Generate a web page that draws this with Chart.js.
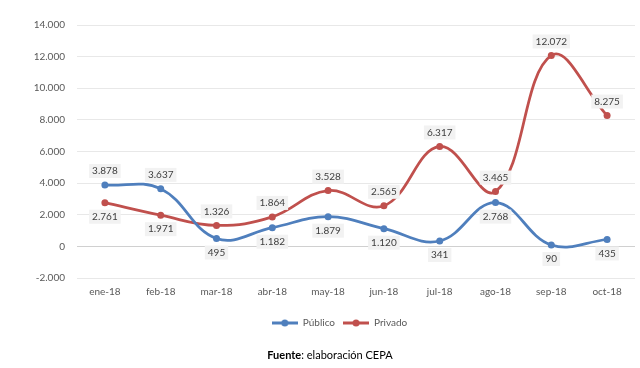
<!DOCTYPE html>
<html>
<head>
<meta charset="utf-8">
<script src="https://cdn.jsdelivr.net/npm/chart.js@4"></script>
<style>
  html, body { margin: 0; padding: 0; background: #fff; }
  #wrap { position: relative; width: 640px; height: 368px; }
  #fuente { position: absolute; left: 20px; right: 0; top: 348px; text-align: center;
            font: 11px Lato, sans-serif; color: #000; }
</style>
</head>
<body>
<div id="wrap">
  <canvas id="grafico" width="640" height="368"></canvas>
  <div id="fuente"><b>Fuente</b>: elaboración CEPA</div>
</div>
<script>
  // datos
  var MESES = ['ene-18', 'feb-18', 'mar-18', 'abr-18', 'may-18', 'jun-18', 'jul-18', 'ago-18', 'sep-18', 'oct-18'];
  var PUBLICO = [3878, 3637, 495, 1182, 1879, 1120, 341, 2768, 90, 435];
  var PRIVADO = [2761, 1971, 1326, 1864, 3528, 2565, 6317, 3465, 12072, 8275];
  var Y_MIN = -2000, Y_MAX = 14000, Y_PASO = 2000;

  // ubicación de cada etiqueta respecto del punto
  var POS_PUBLICO = ['arriba', 'arriba', 'abajo', 'abajo', 'abajo', 'abajo', 'abajo', 'abajo', 'abajo', 'abajo'];
  var POS_PRIVADO = ['abajo', 'abajo', 'arriba', 'arriba', 'arriba', 'arriba', 'arriba', 'arriba', 'arriba', 'arriba'];

  var AZUL = '#4f7fbd', ROJO = '#c0504d';
  var FUENTE = 'Lato, sans-serif';

  function fmt(n) { return String(n).replace(/\B(?=(\d{3})+(?!\d))/g, '.'); }

  // marcador de leyenda estilo Excel: línea con punto
  function marcador(color) {
    var c = document.createElement('canvas');
    c.width = 26; c.height = 10;
    var x = c.getContext('2d');
    x.strokeStyle = color; x.lineWidth = 3;
    x.beginPath(); x.moveTo(0, 5); x.lineTo(26, 5); x.stroke();
    x.fillStyle = color;
    x.beginPath(); x.arc(13, 5, 3.5, 0, Math.PI * 2); x.fill();
    return c;
  }

  /* etiquetas de datos con fondo gris claro */
  var etiquetas = {
    id: 'etiquetas',
    afterDatasetsDraw: function (chart) {
      var ctx = chart.ctx;
      ctx.save();
      ctx.font = '10px ' + FUENTE;
      ctx.textAlign = 'center';
      ctx.textBaseline = 'middle';
      chart.data.datasets.forEach(function (ds, i) {
        var meta = chart.getDatasetMeta(i);
        meta.data.forEach(function (pt, j) {
          var txt = fmt(ds.data[j]);
          var w = ctx.measureText(txt).width + 6, h = 14;
          var cy = ds.posiciones[j] === 'arriba' ? pt.y - 14 : pt.y + 14;
          ctx.fillStyle = '#f2f2f2';
          ctx.fillRect(pt.x - w / 2, cy - h / 2, w, h);
          ctx.fillStyle = '#404040';
          ctx.fillText(txt, pt.x, cy);
        });
      });
      ctx.restore();
    }
  };

  // la leyenda va algo corrida a la derecha, como en el original
  var correrLeyenda = {
    id: 'correrLeyenda',
    afterLayout: function (chart) {
      if (chart.legend) { chart.legend.left += 17; chart.legend.right += 17; }
    }
  };

  function serie(nombre, datos, color, pos) {
    return {
      label: nombre, data: datos, posiciones: pos,
      borderColor: color, backgroundColor: color,
      borderWidth: 2.75, pointRadius: 3.5, pointBackgroundColor: color, pointBorderWidth: 0,
      tension: 0.4, fill: false,
    };
  }

  new Chart(document.getElementById('grafico').getContext('2d'), {
    type: 'line',
    data: {
      labels: MESES,
      datasets: [
        serie('Público', PUBLICO, AZUL, POS_PUBLICO),
        serie('Privado', PRIVADO, ROJO, POS_PRIVADO),
      ],
    },
    plugins: [etiquetas, correrLeyenda],
    options: {
      responsive: false, animation: false,
      layout: { padding: { left: 10, right: 5, top: 25, bottom: 30 } },
      plugins: {
        tooltip: { enabled: false },
        legend: {
          position: 'bottom',
          labels: {
            usePointStyle: true, pointStyleWidth: 26, padding: 8,
            color: '#595959', font: { family: FUENTE, size: 10 },
            generateLabels: function (chart) {
              return chart.data.datasets.map(function (ds, i) {
                return { text: ds.label, pointStyle: marcador(ds.borderColor), fontColor: '#595959',
                         hidden: false, datasetIndex: i, lineWidth: 0 };
              });
            },
          },
        },
      },
      scales: {
        x: {
          offset: true,
          grid: { display: false, drawTicks: false },
          border: { display: false },
          ticks: { color: '#595959', font: { family: FUENTE, size: 10 }, padding: 8, maxRotation: 0 },
          afterFit: function (s) { s.height = 32; },
        },
        y: {
          min: Y_MIN, max: Y_MAX,
          border: { display: false },
          grid: {
            color: function (c) { return c.tick && c.tick.value === 0 ? '#d0d0d0' : '#e8e8e8'; },
            drawTicks: false,
          },
          ticks: { stepSize: Y_PASO, color: '#595959', font: { family: FUENTE, size: 10 }, padding: 12,
                   callback: function (v) { return fmt(v); } },
          afterFit: function (s) { s.width = 67; },
        },
      },
    },
  });
</script>
</body>
</html>
